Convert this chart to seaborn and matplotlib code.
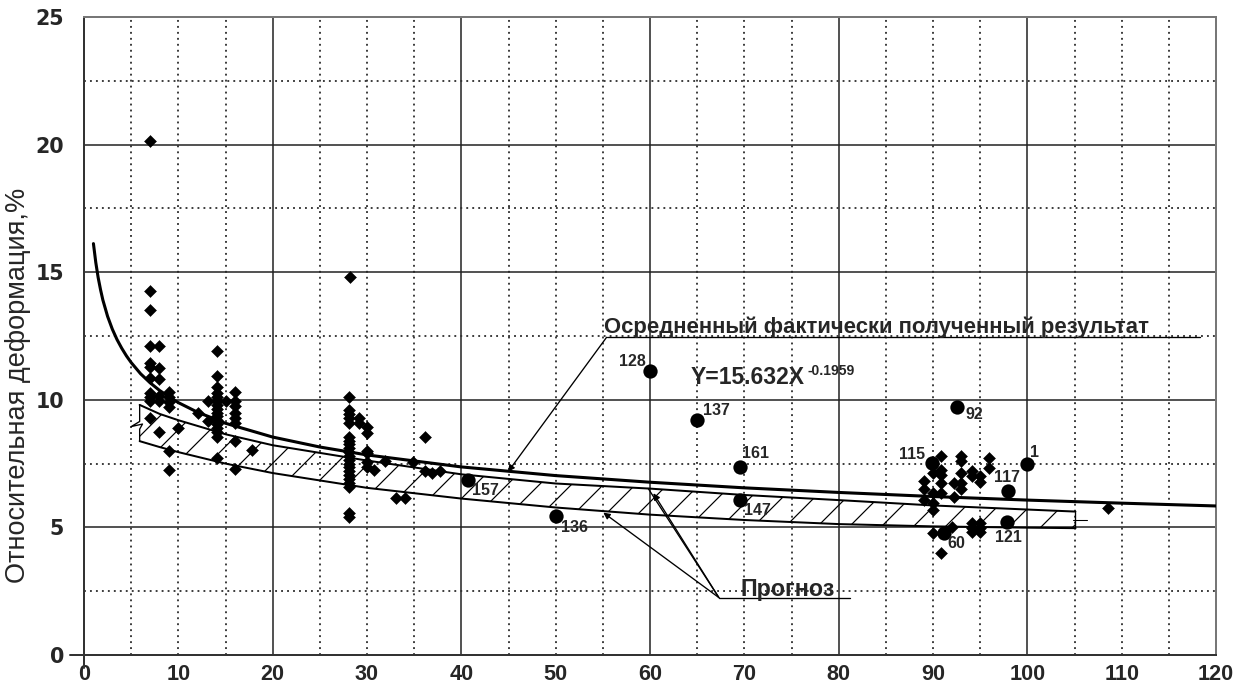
import numpy as np
import pandas as pd
import matplotlib
matplotlib.use("Agg")
import matplotlib.pyplot as plt
import seaborn as sns

# ---------------- data ----------------
# averaged power trend line
curve_x = [1, 1.25, 1.5, 1.75, 2, 2.5, 3, 3.5, 4, 4.5, 5, 6, 7, 8, 9, 10, 12, 15, 20, 25, 30, 40,
           50, 60, 70, 80, 90, 100, 110, 120]
curve_y = [16.12, 15.38, 14.79, 14.32, 13.91, 13.27, 12.77, 12.36, 12.02, 11.72, 11.46, 11.02,
           10.67, 10.37, 10.12, 9.89, 9.52, 9.08, 8.54, 8.15, 7.84, 7.37, 7.03, 6.77, 6.55, 6.37,
           6.21, 6.07, 5.95, 5.84]

# forecast band
band_x = [5.9, 8, 10, 15, 20, 30, 40, 50, 60, 70, 80, 90, 100, 105.1]
band_hi = [9.8, 9.45, 9.2, 8.65, 8.22, 7.62, 7.08, 6.72, 6.52, 6.27, 6.07, 5.86, 5.7, 5.62]
band_lo = [8.38, 8.15, 7.95, 7.5, 7.13, 6.55, 6.13, 5.78, 5.5, 5.29, 5.13, 5.04, 4.99, 4.97]

# small measured points
pts_x = ([7.0] * 11 + [8.0] * 6 + [9.0] * 6 + [10.0, 12.1, 13.1, 13.1] + [14.05] * 16 + [15.0]
         + [16.0] * 8 + [17.8]
         + [28.1] * 21 + [29.1, 29.1] + [30.0] * 6 + [30.7, 31.9, 33.1, 34.0, 34.9, 36.1, 36.2, 36.9, 37.7, 28.2]
         + [90.9, 93.0, 93.0, 95.9, 95.9, 90.0, 90.9, 90.9, 90.9, 89.0, 93.0, 94.1, 94.1, 95.0, 95.0,
            92.2, 93.0, 89.0, 90.0, 90.9, 92.2, 93.0, 89.0, 90.0, 90.0, 92.0, 94.1, 94.1, 95.0, 95.0,
            94.1, 95.0, 90.0, 90.9, 108.6])
pts_y = ([20.15, 14.25, 13.5, 12.1, 11.45, 11.3, 10.85, 10.25, 10.1, 9.95, 9.3]
         + [12.1, 11.25, 10.8, 10.15, 9.95, 8.75]
         + [10.3, 10.1, 9.9, 9.7, 8.0, 7.25]
         + [8.9, 9.5, 9.95, 9.15]
         + [11.9, 10.95, 10.5, 10.25, 10.1, 9.95, 9.8, 9.65, 9.5, 9.35, 9.2, 9.05, 8.9, 8.75, 8.55, 7.7]
         + [9.95]
         + [10.3, 9.95, 9.75, 9.5, 9.3, 9.1, 8.4, 7.3]
         + [8.05]
         + [10.1, 9.6, 9.45, 9.3, 9.1, 8.55, 8.4, 8.25, 8.1, 7.95, 7.8, 7.65, 7.5, 7.35, 7.2, 7.05,
            6.9, 6.75, 6.6, 5.55, 5.4]
         + [9.3, 9.1]
         + [8.95, 8.7, 8.0, 7.9, 7.55, 7.35]
         + [7.25, 7.6, 6.15, 6.15, 7.55, 8.55, 7.2, 7.15, 7.2, 14.8]
         + [7.8, 7.8, 7.62, 7.71, 7.32, 7.12, 7.25, 7.05, 6.73, 6.83, 7.14, 7.22, 7.0, 7.0, 6.79,
            6.73, 6.73, 6.49, 6.34, 6.36, 6.18, 6.49, 6.07, 5.95, 5.7, 5.03, 5.16, 4.96, 5.16, 4.96,
            4.83, 4.83, 4.77, 3.98, 5.76])

# numbered objects (large dots)
obj_id = ["128", "137", "161", "147", "157", "136", "92", "115", "1", "117", "121", "60"]
obj_x = [60.0, 65.0, 69.5, 69.5, 40.7, 50.0, 92.5, 89.9, 100.0, 97.95, 97.8, 91.2]
obj_y = [11.12, 9.22, 7.36, 6.08, 6.87, 5.45, 9.71, 7.54, 7.48, 6.43, 5.22, 4.8]

x_ticks = [0, 10, 20, 30, 40, 50, 60, 70, 80, 90, 100, 110, 120]
y_ticks = [0, 5, 10, 15, 20, 25]

y_title = "Относительная деформация,%"
avg_text = "Осредненный фактически полученный результат"
fc_text = "Прогноз"
eq_main = "Y=15.632X"
eq_exp = "-0.1959"

# ---------------- style ----------------
sns.set_theme(style="white")
plt.rcParams["font.family"] = ["Liberation Sans", "DejaVu Sans"]
plt.rcParams["hatch.linewidth"] = 0.9

DPI = 96
W, H = 1243, 691
fig = plt.figure(figsize=(W / DPI, H / DPI), dpi=DPI)
ax = fig.add_axes([84 / W, 1 - 655 / H, (1216 - 84) / W, (655 - 17) / H])
ax.set_xlim(0, 120)
ax.set_ylim(0, 25)

# grid
dot = (0, (1, 2.2))
for gx in np.arange(5, 120, 5):
    if gx % 20 == 0:
        ax.axvline(gx, color="#222222", lw=1.15, zorder=1)
    else:
        ax.axvline(gx, color="#333333", lw=1.4, ls=dot, zorder=1)
for gy in np.arange(2.5, 25, 2.5):
    if gy % 5 == 0:
        ax.axhline(gy, color="#222222", lw=1.15, zorder=1)
    else:
        ax.axhline(gy, color="#333333", lw=1.4, ls=dot, zorder=1)

for side in ["top", "right"]:
    ax.spines[side].set_color("#777777")
    ax.spines[side].set_linewidth(1.5)
for side in ["left", "bottom"]:
    ax.spines[side].set_color("#333333")
    ax.spines[side].set_linewidth(1.5)
# small crossing of axes at origin
ax.plot([-0.012, 0], [0, 0], transform=ax.transAxes, color="#333333", lw=1.5, clip_on=False)
ax.plot([0, 0], [-0.02, 0], transform=ax.transAxes, color="#333333", lw=1.5, clip_on=False)

# forecast band (hatched)
ax.fill_between(band_x, band_lo, band_hi, facecolor="none", hatch="/", edgecolor="black",
                linewidth=0, zorder=2)
ax.plot(band_x, band_hi, color="black", lw=1.5, zorder=3)
ax.plot(band_x, band_lo, color="black", lw=1.5, zorder=3)
# break mark on left end and tick on right end
bx0, bx1 = band_x[0], band_x[-1]
ax.plot([bx0, bx0, bx0 - 0.9, bx0 + 0.3, bx0, bx0],
        [band_hi[0], 9.15, 8.95, 9.05, 8.85, band_lo[0]], color="black", lw=1.0, zorder=3)
ax.plot([bx1, bx1], [band_lo[-1], band_hi[-1]], color="black", lw=1.0, zorder=3)
ax.plot([bx1 - 0.3, bx1 + 1.2], [5.3, 5.3], color="black", lw=0.8, zorder=3)

# trend line
sns.lineplot(x=curve_x, y=curve_y, ax=ax, color="black", lw=2.3, zorder=4)

# points
sns.scatterplot(x=pts_x, y=pts_y, ax=ax, marker="D", s=40, color="black", edgecolor="black",
                linewidth=0.4, zorder=5)
sns.scatterplot(x=obj_x, y=obj_y, ax=ax, marker="o", s=115, color="black", edgecolor="black",
                linewidth=0, zorder=6)

# labels of objects (offset in data units, ha)
lab_off = {"128": (-0.4, 0.4, "right"), "137": (0.6, 0.38, "left"), "161": (0.3, 0.55, "left"),
           "147": (0.5, -0.4, "left"), "157": (0.4, -0.44, "left"), "136": (0.6, -0.47, "left"),
           "92": (0.9, -0.27, "left"), "115": (-0.7, 0.3, "right"), "1": (0.3, 0.47, "left"),
           "117": (-1.45, 0.51, "left"), "121": (-1.2, -0.6, "left"), "60": (0.3, -0.45, "left")}
for i, x, y in zip(obj_id, obj_x, obj_y):
    dx, dy, ha = lab_off[i]
    ax.text(x + dx, y + dy, i, ha=ha, va="center", fontsize=12, fontweight="bold", zorder=7)

# equation
ax.text(64.3, 10.88, eq_main, ha="left", va="center", fontsize=17.2, fontweight="bold", zorder=7)
ax.text(76.65, 11.12, eq_exp, ha="left", va="center", fontsize=10.5, fontweight="bold", zorder=7)

# averaged-result annotation
ax.plot([55.4, 118.3], [12.45, 12.45], color="black", lw=1.0, zorder=7)
ax.text(55.15, 12.62, avg_text, ha="left", va="baseline", fontsize=16.6, fontweight="bold",
        zorder=7)
ax.annotate("", xy=(44.95, 7.18), xytext=(55.4, 12.45),
            arrowprops=dict(arrowstyle="-|>", lw=1.0, color="black", mutation_scale=10,
                            shrinkA=0, shrinkB=0), zorder=7)

# forecast annotation
ax.plot([67.3, 81.2], [2.25, 2.25], color="black", lw=1.0, zorder=7)
ax.text(69.6, 2.33, fc_text, ha="left", va="baseline", fontsize=17.4, fontweight="bold",
        zorder=7)
for tx, ty, style in [(55.05, 5.58, "-|>"), (59.8, 6.53, "-"), (60.36, 6.34, "-|>")]:
    ax.annotate("", xy=(tx, ty), xytext=(67.3, 2.25),
                arrowprops=dict(arrowstyle=style, lw=1.0, color="black", mutation_scale=10,
                                shrinkA=0, shrinkB=0), zorder=7)

# ticks
ax.set_xticks(x_ticks)
ax.set_yticks(y_ticks)
ax.set_xticklabels([str(t) for t in x_ticks], fontsize=16.2, fontweight="bold")
ax.set_yticklabels([str(t) for t in y_ticks], fontsize=15.5, fontweight="bold",
                   family=["DejaVu Sans"])
ax.tick_params(axis="x", length=0, pad=7)
ax.tick_params(axis="y", length=0, pad=15)
ax.set_xlabel("")
ax.set_ylabel("")
fig.text(18 / W, 1 - 385 / H, y_title, rotation=90, ha="center", va="center", fontsize=20.3)

fig.savefig("out.png", dpi=DPI)
